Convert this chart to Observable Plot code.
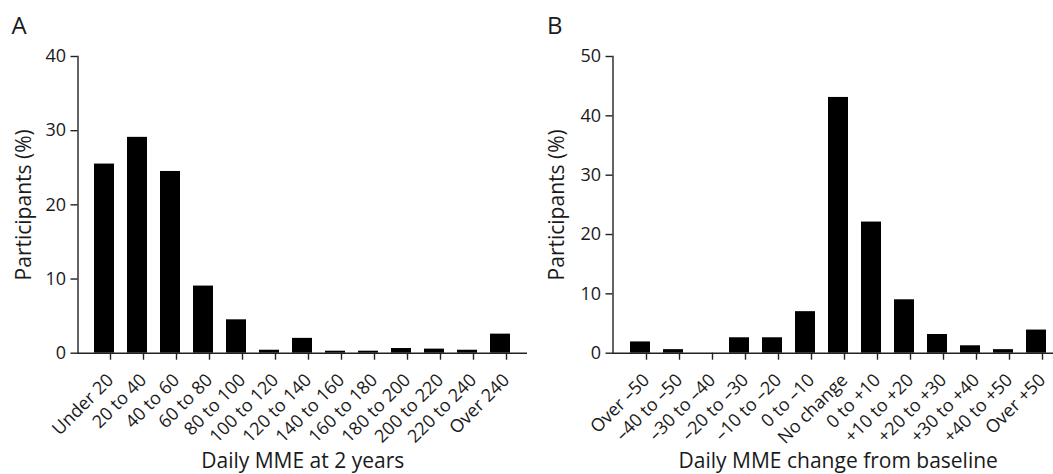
<!DOCTYPE html>
<html>
<head>
<meta charset="utf-8">
<script src="https://cdn.jsdelivr.net/npm/d3@7"></script>
<script src="https://cdn.jsdelivr.net/npm/@observablehq/plot@0.6"></script>
<style>
  html, body { margin: 0; padding: 0; background: #fff; }
  #wrap { position: relative; width: 1053px; height: 474px; overflow: hidden; background: #fff; }
  #wrap > div { position: absolute; top: 0; }
  #panelA { left: 0; width: 530px; }
  #panelB { left: 526px; width: 545px; }
  #wrap svg { max-width: none !important; }
</style>
</head>
<body>
<div id="wrap"><div id="panelA"></div><div id="panelB"></div></div>
<script>
// ---- Data ----
const categoriesA = ["Under 20", "20 to 40", "40 to 60", "60 to 80", "80 to 100", "100 to 120", "120 to 140",
  "140 to 160", "160 to 180", "180 to 200", "200 to 220", "220 to 240", "Over 240"];
const valuesA = [25.5, 29.1, 24.5, 9.05, 4.5, 0.4, 2.0, 0.27, 0.27, 0.63, 0.55, 0.4, 2.57];
const yTicksA = [0, 10, 20, 30, 40];

const categoriesB = ["Over \u201350", "\u201340 to \u201350", "\u201330 to \u201340", "\u201320 to \u201330", "\u201310 to \u201320",
  "0 to \u201310", "No change", "0 to +10", "+10 to +20", "+20 to +30", "+30 to +40", "+40 to +50", "Over +50"];
const valuesB = [1.9, 0.6, 0, 2.6, 2.6, 7.0, 43.1, 22.1, 9.0, 3.15, 1.25, 0.6, 3.9];
const yTicksB = [0, 10, 20, 30, 40, 50];

const panelLetters = ["A", "B"];
const yTitle = "Participants (%)";
const xTitles = ["Daily MME at 2 years", "Daily MME change from baseline"];

function panel({cats, vals, ticks, letter, xTitle, width, marginLeft, marginRight, paddingOuter, yTitleX, letterX}) {
  const data = cats.map((c, i) => ({cat: c, val: vals[i]}));
  const ink = "#1a1a1a";
  return Plot.plot({
    width, height: 474,
    marginTop: 56, marginBottom: 121.3, marginLeft, marginRight,
    style: {fontFamily: "'Open Sans', sans-serif", fontSize: "18px", color: ink, background: "transparent", overflow: "visible", maxWidth: "none"},
    x: {domain: cats, paddingInner: 0.384, paddingOuter, align: 0.5},
    y: {domain: [0, ticks[ticks.length - 1]]},
    marks: [
      Plot.barY(data, {x: "cat", y: "val", fill: "#000"}),
      Plot.ruleY([0], {stroke: "#222", strokeWidth: 1.4}),
      Plot.frame({anchor: "left", stroke: "#222", strokeWidth: 1.4}),
      Plot.axisY({ticks, tickSize: 7, tickPadding: 5, label: null, stroke: "#222", strokeWidth: 1.4, fontSize: 18}),
      Plot.axisX({tickSize: 7, tickRotate: -45, tickPadding: 17, dx: 6, label: null, stroke: "#222", strokeWidth: 1.4, fontSize: 18}),
      Plot.text([yTitle], {text: d => d, frameAnchor: "left", textAnchor: "middle", lineAnchor: "middle", dx: yTitleX - marginLeft, rotate: -90, fontSize: 21, fill: ink}),
      Plot.text([xTitle], {text: d => d, frameAnchor: "bottom", textAnchor: "middle", lineAnchor: "middle", dy: 108, fontSize: 21, fill: ink}),
      Plot.text([letter], {text: d => d, frameAnchor: "top-left", textAnchor: "start", lineAnchor: "middle", dx: letterX - marginLeft, dy: -30.5, fontSize: 24, fill: ink})
    ]
  });
}

document.getElementById("panelA").appendChild(panel({
  cats: categoriesA, vals: valuesA, ticks: yTicksA, letter: panelLetters[0], xTitle: xTitles[0],
  width: 530, marginLeft: 77.5, marginRight: 3, paddingOuter: 0.385, yTitleX: 23.7, letterX: 11
}));
document.getElementById("panelB").appendChild(panel({
  cats: categoriesB, vals: valuesB, ticks: yTicksB, letter: panelLetters[1], xTitle: xTitles[1],
  width: 545, marginLeft: 86.5, marginRight: 8, paddingOuter: 0.4, yTitleX: 31, letterX: 20.5
}));
</script>
</body>
</html>
